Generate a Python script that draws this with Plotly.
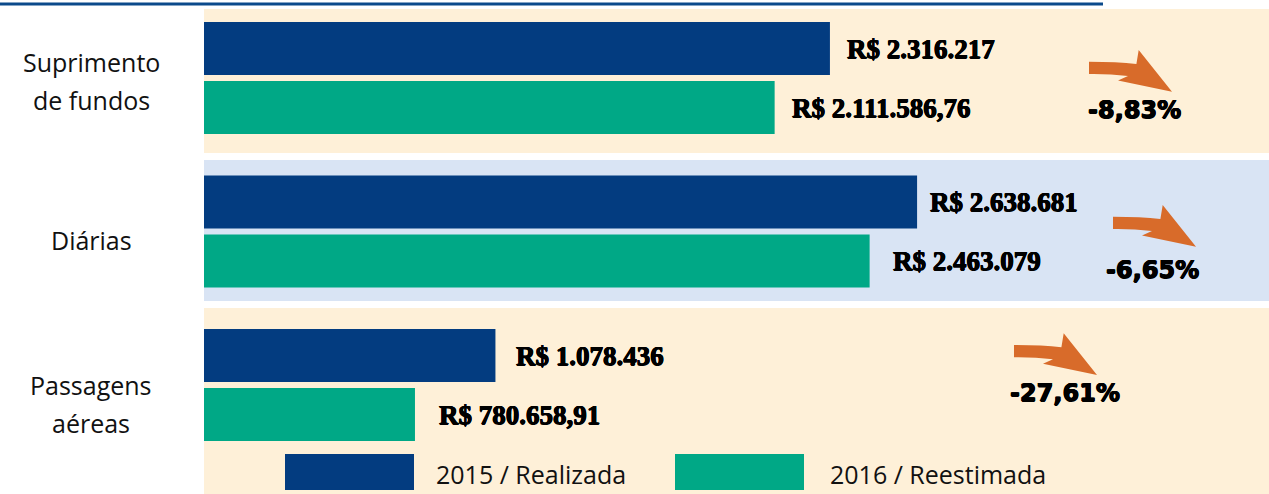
import plotly.graph_objects as go

# ---- data ----
categories = ["Suprimento de fundos", "Diárias", "Passagens aéreas"]
category_lines = [["Suprimento", "de fundos"], ["Diárias"], ["Passagens", "aéreas"]]
values_2015 = [2316217.00, 2638681.00, 1078436.00]
values_2016 = [2111586.76, 2463079.00, 780658.91]
series_names = ["2015 / Realizada", "2016 / Reestimada"]

# ---- style ----
W, H = 1269, 494
BLUE = "#033C80"
GREEN = "#00A886"
BEIGE = "#FEF0D8"
LIGHTBLUE = "#D9E4F4"
ORANGE = "#D86B2A"
LINE = "#0B4A8B"
band_colors = [BEIGE, LIGHTBLUE, BEIGE]
HEAVY = "0.6px 0px 0px #000, -0.6px 0px 0px #000, 0px 0.5px 0px #000, 0px -0.3px 0px #000"

def brl(v):
    s = f"{v:,.2f}" if abs(v - round(v)) > 1e-9 else f"{v:,.0f}"
    return "R$ " + s.replace(",", "X").replace(".", ",").replace("X", ".")

def pct(a, b):
    p = (b - a) / a * 100
    s = f"{int(p * 100) / 100:.2f}"
    return s.replace(".", ",") + "%"

def px(x):
    return x / W

def py(y):
    return 1 - y / H

fig = go.Figure()
fig.add_trace(go.Bar(y=categories, x=values_2015, orientation="h", name=series_names[0],
                     marker=dict(color=BLUE, line=dict(width=0)), hoverinfo="x"))
fig.add_trace(go.Bar(y=categories, x=values_2016, orientation="h", name=series_names[1],
                     marker=dict(color=GREEN, line=dict(width=0)), hoverinfo="x"))

shapes = []
annotations = []

# top rule
shapes.append(dict(type="line", xref="paper", yref="paper", x0=0, x1=px(1103),
                   y0=py(4), y1=py(4), line=dict(color=LINE, width=3)))

# background bands (pixel rows)
bands = [(9, 153), (160, 301), (308, 494)]
for (t, b), c in zip(bands, band_colors):
    shapes.append(dict(type="rect", xref="paper", yref="paper", x0=px(204), x1=1,
                       y0=py(b), y1=py(t), fillcolor=c, line=dict(width=0), layer="below"))

# category labels
label_centers = [(91, [62, 100]), (91, [240]), (91, [385, 423])]
for lines, (cx, ys) in zip(category_lines, label_centers):
    for txt, yy in zip(lines, ys):
        annotations.append(dict(text=txt, xref="paper", yref="paper", x=px(cx), y=py(yy),
                                xanchor="center", yanchor="middle", showarrow=False,
                                font=dict(family="Open Sans", size=25, color="#111111")))

# value labels
shift_2015 = [15, 11, 19]
shift_2016 = [15, 21, 22]
for cat, v1, v2, s1, s2 in zip(categories, values_2015, values_2016, shift_2015, shift_2016):
    for v, s, ysh in ((v1, s1, 29.5), (v2, s2, -29.5)):
        annotations.append(dict(text=brl(v), x=v, y=cat, xref="x", yref="y",
                                xanchor="left", yanchor="middle", xshift=s, yshift=ysh,
                                showarrow=False,
                                font=dict(family="Liberation Serif", size=27, color="#000000",
                                          weight="bold", shadow=HEAVY)))

# arrows and percentages
arrow_anchors = [(1089, 61.7), (1113, 216.7), (1014, 345)]
pct_centers = [(1134, 110), (1152, 270), (1065, 393)]

def arrow_path(ax, ay):
    pts = {
        "p1": (0, 0), "c1": (28, 0), "p2": (47.4, 2.3), "p3": (49.7, -11.7),
        "p4": (83, 30), "p5": (29, 18.7), "p6": (39, 14.3), "c2": (20, 12), "p7": (0, 12.3),
    }
    def f(k):
        dx, dy = pts[k]
        return f"{px(ax + dx):.6f},{py(ay + dy):.6f}"
    return (f"M {f('p1')} Q {f('c1')} {f('p2')} L {f('p3')} L {f('p4')} L {f('p5')} "
            f"L {f('p6')} Q {f('c2')} {f('p7')} Z")

for (ax, ay), (cx, cy), v1, v2 in zip(arrow_anchors, pct_centers, values_2015, values_2016):
    shapes.append(dict(type="path", xref="paper", yref="paper", path=arrow_path(ax, ay),
                       fillcolor=ORANGE, line=dict(width=0)))
    annotations.append(dict(text=pct(v1, v2), xref="paper", yref="paper", x=px(cx), y=py(cy),
                            xanchor="center", yanchor="middle", showarrow=False,
                            font=dict(family="DejaVu Sans", size=24, color="#000000",
                                      weight="bold", shadow=HEAVY)))

# legend
legend_items = [((285, 414), 434, BLUE), ((675, 804), 828, GREEN)]
for name, ((x0, x1), tx, c) in zip(series_names, legend_items):
    shapes.append(dict(type="rect", xref="paper", yref="paper", x0=px(x0), x1=px(x1),
                       y0=py(490), y1=py(454), fillcolor=c, line=dict(width=0)))
    annotations.append(dict(text=name, xref="paper", yref="paper", x=px(tx), y=py(474),
                            xanchor="left", yanchor="middle", showarrow=False,
                            font=dict(family="Open Sans", size=25, color="#111111")))

xmax = 1065 / 2.7024e-4
fig.update_layout(
    width=W, height=H,
    margin=dict(l=0, r=0, t=0, b=0),
    paper_bgcolor="white", plot_bgcolor="rgba(0,0,0,0)",
    barmode="group", bargap=0.231, bargroupgap=0.102,
    showlegend=False,
    xaxis=dict(domain=[204 / W, 1], range=[0, xmax], visible=False, fixedrange=True),
    yaxis=dict(domain=[0, 1], range=[(494 - 78) / 153.5, -78 / 153.5], visible=False,
               type="category", categoryorder="array", categoryarray=categories,
               fixedrange=True),
    shapes=shapes, annotations=annotations,
)

fig.write_html("out.html", config={"displayModeBar": False},
               post_script="document.body.style.margin='0';document.body.style.overflow='hidden';")
